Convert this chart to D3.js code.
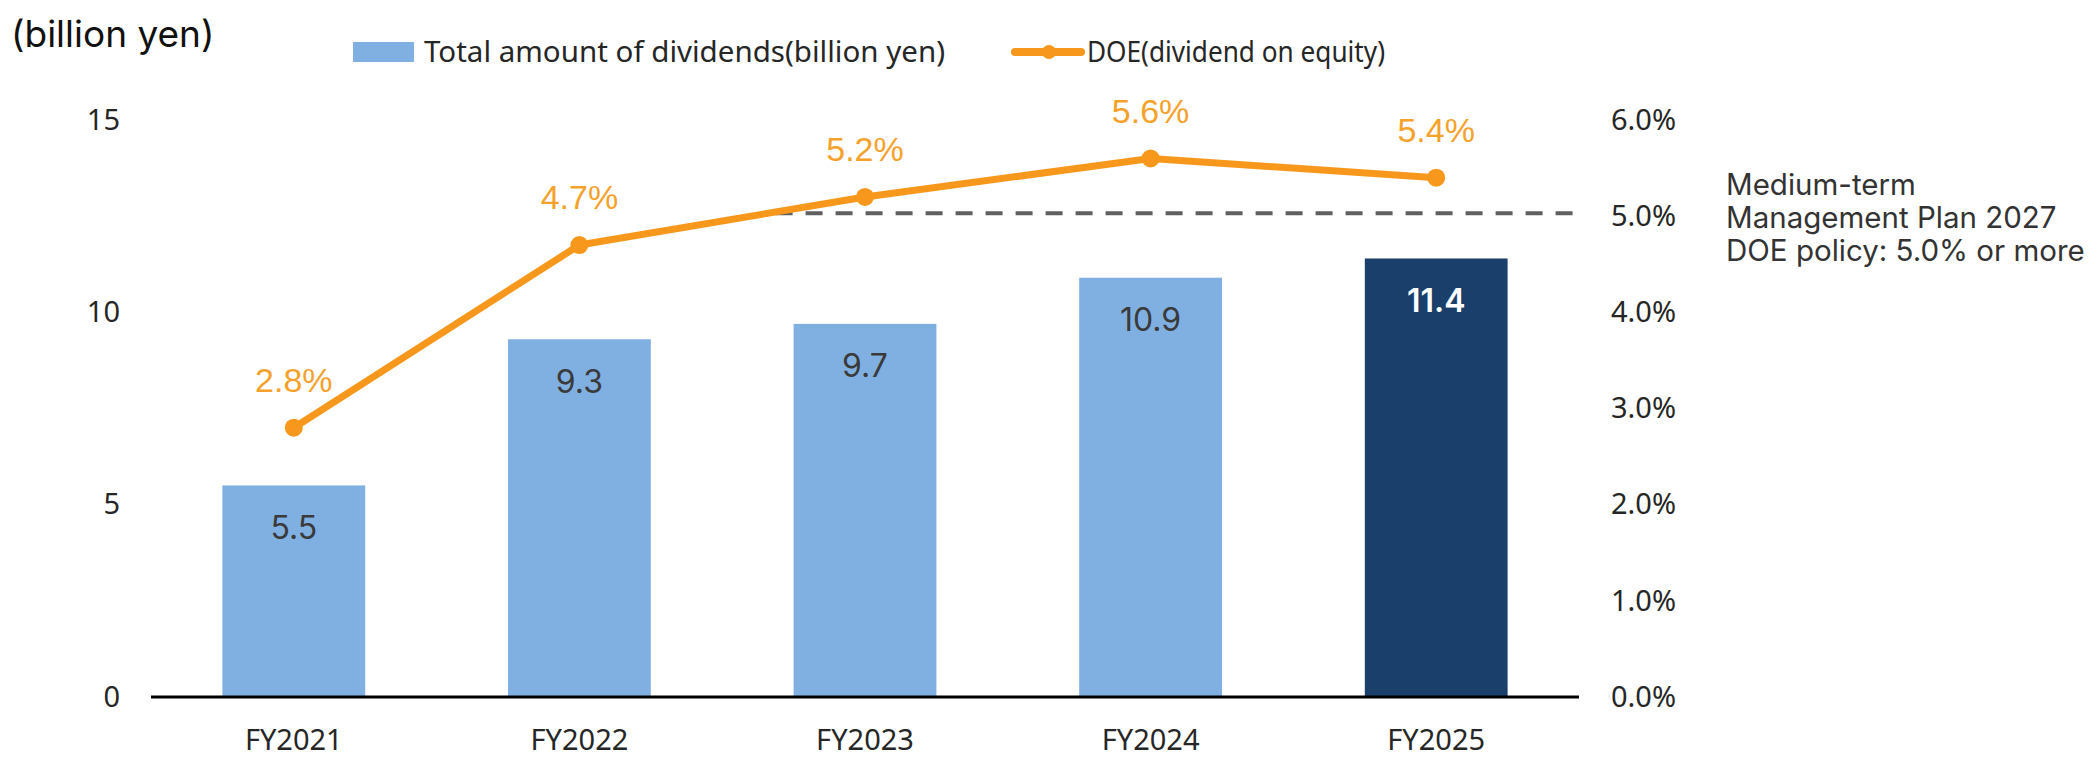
<!DOCTYPE html>
<html>
<head>
<meta charset="utf-8">
<script src="https://cdn.jsdelivr.net/npm/d3@7"></script>
<style>
  body { margin: 0; background: #fff; }
  svg { display: block; }
</style>
</head>
<body>
<div id="chart"></div>
<script>
// data
const years = ['FY2021', 'FY2022', 'FY2023', 'FY2024', 'FY2025'];
const dividends = [5.5, 9.3, 9.7, 10.9, 11.4];
const doe = [2.8, 4.7, 5.2, 5.6, 5.4];
const leftTicks = [0, 5, 10, 15];
const rightTicks = [0, 1, 2, 3, 4, 5, 6];
const policyDoe = 5.0;
const noteLines = ['Medium-term', 'Management Plan 2027', 'DOE policy: 5.0% or more'];

const size = { width: 2098, height: 757 };
const plot = { left: 151, right: 1579, top: 120, bottom: 697 };

const colors = {
  bar: '#80b0e2',
  barLast: '#1a3f6b',
  line: '#f7981c',
  lineLabel: '#f5a22c',
  text: '#262626',
  dash: '#606060',
};

const tickFont = '"Noto Sans", sans-serif';
const labelFont = 'Inter, "Open Sans", sans-serif';

const svg = d3.select('#chart')
  .append('svg')
  .attr('width', size.width)
  .attr('height', size.height);

const x = d3.scaleBand()
  .domain(years)
  .range([plot.left, plot.right])
  .paddingInner(0.5)
  .paddingOuter(0.25);

const yL = d3.scaleLinear().domain([0, 15]).range([plot.bottom, plot.top]);
const yR = d3.scaleLinear().domain([0, 6]).range([plot.bottom, plot.top]);

const rows = years.map((year, i) => ({ year, amount: dividends[i], doe: doe[i] }));

// bars
svg.selectAll('rect.bar')
  .data(rows)
  .enter()
  .append('rect')
  .attr('class', 'bar')
  .attr('x', (d) => x(d.year))
  .attr('y', (d) => yL(d.amount))
  .attr('width', x.bandwidth())
  .attr('height', (d) => yL(0) - yL(d.amount))
  .attr('fill', (d, i) => (i === rows.length - 1 ? colors.barLast : colors.bar));

// bar values
svg.selectAll('text.amount')
  .data(rows)
  .enter()
  .append('text')
  .attr('class', 'amount')
  .attr('x', (d) => x(d.year) + x.bandwidth() / 2)
  .attr('y', (d) => yL(d.amount) + 42)
  .attr('dy', '0.36em')
  .attr('text-anchor', 'middle')
  .style('font-family', labelFont)
  .style('font-size', '32px')
  .style('font-weight', (d, i) => (i === rows.length - 1 ? 600 : 400))
  .attr('fill', (d, i) => (i === rows.length - 1 ? '#ffffff' : '#3a3a3a'))
  .text((d) => d.amount.toFixed(1));

// baseline
svg.append('line')
  .attr('x1', plot.left)
  .attr('x2', plot.right)
  .attr('y1', yL(0))
  .attr('y2', yL(0))
  .attr('stroke', '#000')
  .attr('stroke-width', 3);

// left axis
const axisL = svg.append('g')
  .attr('transform', `translate(${plot.left - 31},0)`)
  .call(d3.axisLeft(yL).tickValues(leftTicks).tickSize(0).tickPadding(0));
axisL.select('.domain').remove();
axisL.selectAll('text')
  .style('font-family', tickFont)
  .style('font-size', '29px')
  .attr('fill', colors.text);

// right axis
const axisR = svg.append('g')
  .attr('transform', `translate(${plot.right + 32},0)`)
  .call(d3.axisRight(yR).tickValues(rightTicks).tickSize(0).tickPadding(0)
    .tickFormat((d) => `${d.toFixed(1)}%`));
axisR.select('.domain').remove();
axisR.selectAll('text')
  .style('font-family', tickFont)
  .style('font-size', '29px')
  .attr('fill', colors.text);

// x axis labels
const axisX = svg.append('g')
  .attr('transform', `translate(0,${plot.bottom})`)
  .call(d3.axisBottom(x).tickSize(0).tickPadding(32));
axisX.select('.domain').remove();
axisX.selectAll('text')
  .style('font-family', tickFont)
  .style('font-size', '29px')
  .attr('fill', colors.text);

// policy dashed line
svg.append('line')
  .attr('x1', x('FY2023') - 18)
  .attr('x2', plot.right + 4)
  .attr('y1', yR(policyDoe) - 3)
  .attr('y2', yR(policyDoe) - 3)
  .attr('stroke', colors.dash)
  .attr('stroke-width', 4)
  .attr('stroke-dasharray', '17 13');

// DOE line
const cx = (d) => x(d.year) + x.bandwidth() / 2;
const line = d3.line().x(cx).y((d) => yR(d.doe));

svg.append('path')
  .datum(rows)
  .attr('d', line)
  .attr('fill', 'none')
  .attr('stroke', colors.line)
  .attr('stroke-width', 7)
  .attr('stroke-linejoin', 'round');

svg.selectAll('circle.doe')
  .data(rows)
  .enter()
  .append('circle')
  .attr('class', 'doe')
  .attr('cx', cx)
  .attr('cy', (d) => yR(d.doe))
  .attr('r', 9)
  .attr('fill', colors.line);

svg.selectAll('text.doe')
  .data(rows)
  .enter()
  .append('text')
  .attr('class', 'doe')
  .attr('x', cx)
  .attr('y', (d) => yR(d.doe) - 48)
  .attr('dy', '0.36em')
  .attr('text-anchor', 'middle')
  .style('font-family', '"Liberation Sans", Arial, sans-serif')
  .style('font-size', '34px')
  .attr('fill', colors.lineLabel)
  .text((d) => `${d.doe.toFixed(1)}%`);

// unit label
svg.append('text')
  .attr('x', 11)
  .attr('y', 34)
  .attr('dy', '0.36em')
  .style('font-family', labelFont)
  .style('font-size', '37px')
  .attr('fill', '#111')
  .text('(billion yen)');

// legend
const legend = svg.append('g').attr('transform', 'translate(0,52)');
legend.append('rect')
  .attr('x', 353)
  .attr('y', -10)
  .attr('width', 61)
  .attr('height', 20)
  .attr('fill', colors.bar);
legend.append('text')
  .attr('x', 424)
  .attr('dy', '0.36em')
  .attr('textLength', 521)
  .attr('lengthAdjust', 'spacingAndGlyphs')
  .style('font-family', tickFont)
  .style('font-size', '29px')
  .attr('fill', colors.text)
  .text('Total amount of dividends(billion yen)');
legend.append('line')
  .attr('x1', 1015)
  .attr('x2', 1081)
  .attr('stroke', colors.line)
  .attr('stroke-width', 8)
  .attr('stroke-linecap', 'round');
legend.append('circle')
  .attr('cx', 1049)
  .attr('r', 7)
  .attr('fill', colors.line);
legend.append('text')
  .attr('x', 1087)
  .attr('dy', '0.36em')
  .attr('textLength', 298)
  .attr('lengthAdjust', 'spacingAndGlyphs')
  .style('font-family', tickFont)
  .style('font-size', '29px')
  .attr('fill', colors.text)
  .text('DOE(dividend on equity)');

// policy note
svg.append('g')
  .selectAll('text')
  .data(noteLines)
  .enter()
  .append('text')
  .attr('x', 1726)
  .attr('y', (d, i) => 184 + i * 33)
  .attr('dy', '0.36em')
  .style('font-family', labelFont)
  .style('font-size', '29.5px')
  .attr('fill', '#333')
  .text((d) => d);
</script>
</body>
</html>
